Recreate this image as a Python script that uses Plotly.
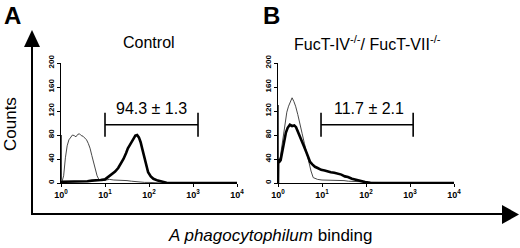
import plotly.graph_objects as go

# ---- data (x in log10 of fluorescence channel, y = counts) ----
a_ctrl_log = [0.0, 0.005, 0.012, 0.03, 0.06, 0.1, 0.14, 0.18, 0.22, 0.26, 0.3, 0.34, 0.38, 0.42, 0.46,
              0.5, 0.54, 0.58, 0.62, 0.66, 0.7, 0.74, 0.78, 0.82, 0.86, 0.9, 0.95, 1.0, 1.1, 1.2, 1.3,
              1.4, 1.5, 1.6, 1.7, 1.8, 1.9, 2.0, 2.1, 2.3, 4.0]
a_ctrl_cnt = [0, 80, 6, 4, 12, 42, 62, 72, 76, 80, 79, 77, 81, 82, 79,
              78, 75, 72, 66, 58, 46, 34, 22, 12, 6, 4, 4, 5, 6, 5, 5,
              4, 4, 3, 2, 2, 1, 1, 0.5, 0, 0]

a_fuc_log = [0.0, 0.1, 0.2, 0.3, 0.4, 0.5, 0.6, 0.7, 0.8, 0.9, 1.0, 1.08, 1.16, 1.23, 1.3, 1.36,
             1.42, 1.48, 1.52, 1.57, 1.61, 1.65, 1.69, 1.73, 1.77, 1.81, 1.85, 1.9, 1.94, 1.98,
             2.04, 2.1, 2.2, 2.3, 2.4, 4.0]
a_fuc_cnt = [2, 2, 3, 2, 3, 2, 3, 4, 4, 5, 6, 10, 14, 19, 25, 32,
             40, 50, 58, 64, 70, 74, 79, 80, 76, 68, 56, 40, 28, 18,
             11, 7, 4, 2, 0.5, 0]

b_ctrl_log = [0.0, 0.005, 0.012, 0.05, 0.1, 0.15, 0.2, 0.24, 0.28, 0.32, 0.36, 0.4, 0.45, 0.5,
              0.55, 0.6, 0.65, 0.7, 0.75, 0.8, 0.9, 1.0, 1.1, 1.2, 1.3, 1.4, 1.5, 1.6, 1.7, 1.8,
              1.9, 2.0, 2.1, 2.2, 4.0]
b_ctrl_cnt = [0, 130, 40, 42, 70, 98, 118, 128, 136, 142, 136, 128, 114, 100,
              82, 66, 50, 34, 20, 9, 6, 5, 5, 5, 5, 4, 4, 3, 3, 2,
              2, 1, 1, 0, 0]

b_ko_log = [0.0, 0.005, 0.02, 0.06, 0.1, 0.14, 0.18, 0.22, 0.27, 0.32, 0.37, 0.41, 0.46, 0.52,
            0.58, 0.64, 0.69, 0.73, 0.78, 0.84, 0.9, 0.98, 1.06, 1.13, 1.2, 1.28, 1.36, 1.44,
            1.52, 1.59, 1.68, 1.77, 1.87, 1.98, 2.1, 2.2, 4.0]
b_ko_cnt = [0, 40, 34, 38, 55, 70, 84, 92, 97, 95, 96, 93, 85, 75,
            63, 52, 42, 35, 31, 27, 25, 22, 21, 19, 18, 17, 16, 14,
            11, 10, 7, 5, 3, 1.5, 0.5, 0, 0]

gate_a = [10, 1300]
gate_b = [9.5, 1180]
gate_y = 97
gate_half = 20
pct_labels = ["94.3 \u00b1 1.3", "11.7 \u00b1 2.1"]
panel_titles = ["Control", "FucT-IV<sup>-/-</sup>/ FucT-VII<sup>-/-</sup>"]
panel_letters = ["A", "B"]
y_ticks = [0, 40, 80, 120, 160, 200]
x_ticks = [1, 10, 100, 1000, 10000]
x_ticktext = ["10<sup>0</sup>", "10<sup>1</sup>", "10<sup>2</sup>", "10<sup>3</sup>", "10<sup>4</sup>"]

W, H = 520, 248
FONT = "Liberation Sans, Arial, sans-serif"

fig = go.Figure()

def px(x):
    return x / W

def py(y):
    return 1 - y / H

def add_hist(xlog, cnt, xa, ya, width, color):
    fig.add_trace(go.Scatter(x=[10 ** v for v in xlog], y=cnt, mode="lines",
                             line=dict(color=color, width=width, shape="linear"),
                             xaxis=xa, yaxis=ya, showlegend=False, hoverinfo="skip"))

def add_gate(g, xa, ya):
    fig.add_trace(go.Scatter(
        x=[g[0], g[0], None, g[0], g[1], None, g[1], g[1]],
        y=[gate_y - gate_half, gate_y + gate_half, None, gate_y, gate_y, None,
           gate_y - gate_half, gate_y + gate_half],
        mode="lines", line=dict(color="black", width=1.6),
        xaxis=xa, yaxis=ya, showlegend=False, hoverinfo="skip", cliponaxis=False))

add_hist(a_ctrl_log, a_ctrl_cnt, "x", "y", 0.9, "#333333")
add_hist(a_fuc_log, a_fuc_cnt, "x", "y", 2.6, "black")
add_gate(gate_a, "x", "y")
add_hist(b_ctrl_log, b_ctrl_cnt, "x2", "y2", 0.9, "#333333")
add_hist(b_ko_log, b_ko_cnt, "x2", "y2", 2.6, "black")
add_gate(gate_b, "x2", "y2")

ydom = [py(183), py(63)]
xcommon = dict(type="log", range=[0, 4], tickvals=x_ticks, ticktext=x_ticktext, automargin=False,
               showgrid=False, zeroline=False, showline=True, linecolor="black", linewidth=1.2,
               ticks="outside", ticklen=3, tickwidth=1, tickcolor="black",
               tickfont=dict(family=FONT, size=9, color="black", weight="bold"))
ycommon = dict(range=[0, 200], tickvals=y_ticks, showgrid=False, zeroline=False, automargin=False,
               showline=True, linecolor="black", linewidth=1.2,
               ticks="outside", ticklen=3, tickwidth=1, tickcolor="black", tickangle=-90,
               tickfont=dict(family=FONT, size=8, color="black", weight="bold"), domain=ydom)

fig.update_layout(
    template="none",
    width=W, height=H, margin=dict(l=0, r=0, t=0, b=0, autoexpand=False),
    paper_bgcolor="white", plot_bgcolor="rgba(0,0,0,0)",
    xaxis=dict(xcommon, domain=[px(61), px(237)], anchor="y"),
    yaxis=dict(ycommon, anchor="x"),
    xaxis2=dict(xcommon, domain=[px(278), px(454)], anchor="y2"),
    yaxis2=dict(ycommon, anchor="x2"),
)

# big arrows
lw = 2
fig.add_shape(type="line", xref="paper", yref="paper", x0=px(32), x1=px(32), y0=py(215), y1=py(46),
              line=dict(color="black", width=lw))
fig.add_shape(type="path", xref="paper", yref="paper",
              path=f"M {px(24)} {py(47)} L {px(40)} {py(47)} L {px(32)} {py(30)} Z",
              fillcolor="black", line=dict(color="black", width=0))
fig.add_shape(type="line", xref="paper", yref="paper", x0=px(31), x1=px(504), y0=py(214), y1=py(214),
              line=dict(color="black", width=lw))
fig.add_shape(type="path", xref="paper", yref="paper",
              path=f"M {px(502)} {py(205)} L {px(502)} {py(224)} L {px(519)} {py(214.5)} Z",
              fillcolor="black", line=dict(color="black", width=0))

def txt(x, y, s, size, yanchor="middle", **kw):
    fig.add_annotation(x=px(x), y=py(y), xref="paper", yref="paper", text=s, showarrow=False,
                       xanchor="center", yanchor=yanchor,
                       font=dict(family=FONT, size=size, color="black"), **kw)

txt(12, 0, "<b>A</b>", 24, yanchor="top")
txt(271, 0, "<b>B</b>", 24, yanchor="top")
txt(149, 43, panel_titles[0], 16)
txt(367, 43, panel_titles[1], 16)
txt(151, 108, pct_labels[0], 16)
txt(369, 108, pct_labels[1], 16)
txt(10, 124, "Counts", 17, textangle=-90)
txt(270, 235, "<i>A phagocytophilum</i> binding", 17)

fig.write_html("out.html", config={"displayModeBar": False},
               post_script="document.body.style.margin='0';document.body.style.overflow='hidden';")
